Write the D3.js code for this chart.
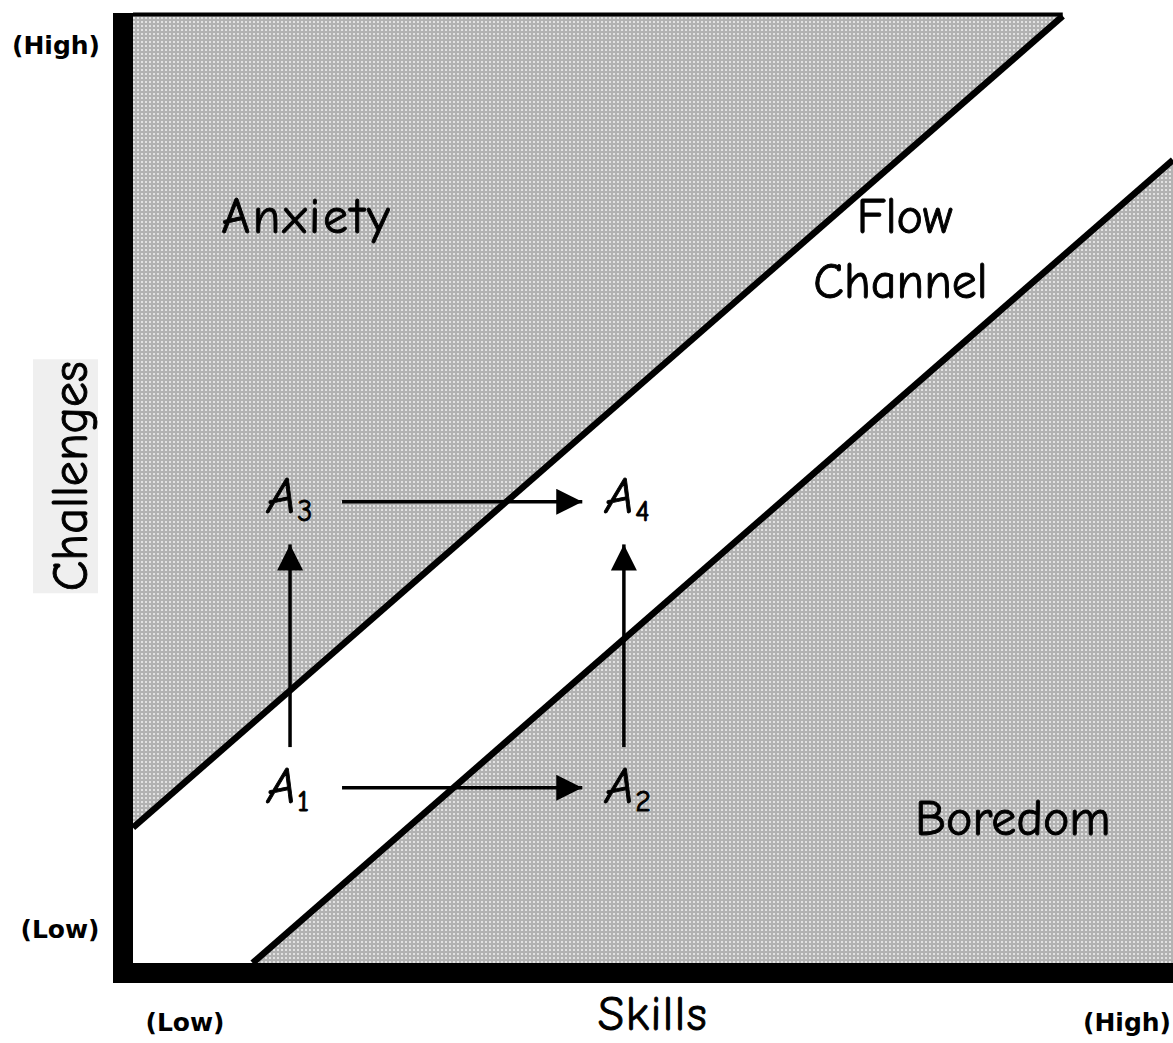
<!DOCTYPE html>
<html>
<head>
<meta charset="utf-8">
<script src="https://cdn.jsdelivr.net/npm/d3@7"></script>
<style>
  body { margin: 0; background: #fff; }
  text { font-family: "Comic Sans MS", "Comic Neue", "DejaVu Sans", sans-serif; fill: #000; }
  .comic { stroke: #000; stroke-width: 0.9; }
  .endlabel { font-family: "DejaVu Sans", Verdana, sans-serif; font-weight: bold; }
</style>
</head>
<body>
<div id="plot"></div>
<script>
// flow channel diagram: skills (x) vs challenges (y), both 0..100

// channel edges
const upperEdge = [{ x: 0, y: 14.3 }, { x: 89.4, y: 100 }];
const lowerEdge = [{ x: 11.5, y: 0 }, { x: 100, y: 84.8 }];

// shaded zones
const anxietyZone = [{ x: 0, y: 14.3 }, { x: 89.4, y: 100 }, { x: 0, y: 100 }];
const boredomZone = [{ x: 11.5, y: 0 }, { x: 100, y: 84.8 }, { x: 100, y: 0 }];

// zone names
const zoneLabels = [
  { text: "Anxiety", x: 16.7, y: 77.1 },
  { text: "Flow", x: 74.2, y: 77.1 },
  { text: "Channel", x: 73.8, y: 70.2 },
  { text: "Boredom", x: 84.6, y: 13.5 }
];

// states A1..A4
const states = [
  { name: "A", sub: "1", x: 12.9, y: 16.9 },
  { name: "A", sub: "2", x: 45.4, y: 16.9 },
  { name: "A", sub: "3", x: 12.9, y: 47.5 },
  { name: "A", sub: "4", x: 45.4, y: 47.5 }
];

// arrows between states
const moves = [
  { x1: 20.1, y1: 18.5, x2: 43.2, y2: 18.5 },
  { x1: 20.1, y1: 48.7, x2: 43.2, y2: 48.7 },
  { x1: 15.1, y1: 22.8, x2: 15.1, y2: 44.2 },
  { x1: 47.2, y1: 22.8, x2: 47.2, y2: 44.2 }
];

const axisNames = { x: "Skills", y: "Challenges" };
const lowHigh = ["(Low)", "(High)"];

const width = 1173, height = 1043;
const margin = { top: 16, right: 0, bottom: 80, left: 133 };

const svg = d3.select("#plot").append("svg")
  .attr("width", width)
  .attr("height", height);

const x = d3.scaleLinear().domain([0, 100]).range([margin.left, width - margin.right]);
const y = d3.scaleLinear().domain([0, 100]).range([height - margin.bottom, margin.top]);

// dotted gray fill
const defs = svg.append("defs");
const pat = defs.append("pattern")
  .attr("id", "dots")
  .attr("patternUnits", "userSpaceOnUse")
  .attr("width", 4).attr("height", 4);
pat.append("rect").attr("width", 4).attr("height", 4).attr("fill", "#b2b2b2");
pat.append("rect").attr("x", 1).attr("y", 1).attr("width", 2).attr("height", 2).attr("fill", "#e2e2e2");

const area = d3.line().x(d => x(d.x)).y(d => y(d.y));

svg.selectAll("path.zone")
  .data([anxietyZone, boredomZone])
  .enter().append("path")
  .attr("class", "zone")
  .attr("d", d => area(d) + "Z")
  .attr("fill", "url(#dots)");

// top edge of anxiety zone
svg.append("line")
  .attr("x1", x(0)).attr("x2", x(upperEdge[1].x))
  .attr("y1", y(100) - 1.5).attr("y2", y(100) - 1.5)
  .attr("stroke", "#000").attr("stroke-width", 4);

// channel edges
svg.selectAll("path.edge")
  .data([upperEdge, lowerEdge])
  .enter().append("path")
  .attr("class", "edge")
  .attr("d", area)
  .attr("fill", "none")
  .attr("stroke", "#000")
  .attr("stroke-width", 6.5);

// thick axes
svg.append("rect")
  .attr("x", x(0) - 20).attr("y", y(100) - 3)
  .attr("width", 20).attr("height", y(0) - y(100) + 23)
  .attr("fill", "#000");
svg.append("rect")
  .attr("x", x(0) - 20).attr("y", y(0))
  .attr("width", x(100) - x(0) + 20).attr("height", 20)
  .attr("fill", "#000");

// arrows
defs.append("marker")
  .attr("id", "head")
  .attr("viewBox", "0 0 10 10")
  .attr("refX", 10).attr("refY", 5)
  .attr("markerUnits", "userSpaceOnUse")
  .attr("markerWidth", 31).attr("markerHeight", 26)
  .attr("orient", "auto")
  .append("path")
  .attr("d", "M0,0 L10,5 L0,10 Z")
  .attr("fill", "#000");

svg.selectAll("line.move")
  .data(moves)
  .enter().append("line")
  .attr("class", "move")
  .attr("x1", d => x(d.x1)).attr("y1", d => y(d.y1))
  .attr("x2", d => x(d.x2)).attr("y2", d => y(d.y2))
  .attr("stroke", "#000")
  .attr("stroke-width", 3.5)
  .attr("marker-end", "url(#head)");

// state labels
const st = svg.selectAll("text.state")
  .data(states)
  .enter().append("text")
  .attr("class", "state comic")
  .attr("x", d => x(d.x))
  .attr("y", d => y(d.y))
  .attr("font-size", 50)
  .style("font-style", "italic");
st.append("tspan").text(d => d.name);
st.append("tspan").attr("font-size", 30).attr("dy", 8).attr("dx", 1)
  .style("font-style", "normal").text(d => d.sub);

// zone labels
svg.selectAll("text.zone")
  .data(zoneLabels)
  .enter().append("text")
  .attr("class", "zone comic")
  .attr("x", d => x(d.x))
  .attr("y", d => y(d.y))
  .attr("text-anchor", "middle")
  .attr("font-size", 50)
  .style("letter-spacing", d => d.text === "Anxiety" ? "2.5px" : "0px")
  .text(d => d.text);

// axis titles
svg.append("text")
  .attr("class", "comic")
  .attr("x", x(50)).attr("y", 1030)
  .attr("text-anchor", "middle")
  .attr("font-size", 48)
  .style("letter-spacing", "1.5px")
  .text(axisNames.x);

const yt = svg.append("g").attr("transform", `translate(87,${y(51.4)}) rotate(-90)`);
yt.append("rect")
  .attr("x", -117).attr("y", -54)
  .attr("width", 234).attr("height", 65)
  .attr("fill", "#efefef");
yt.append("text")
  .attr("class", "comic")
  .attr("text-anchor", "middle")
  .attr("font-size", 50)
  .text(axisNames.y);

// low / high end labels
svg.append("text").attr("class", "endlabel")
  .attr("x", 56).attr("y", 54).attr("text-anchor", "middle")
  .attr("font-size", 25).text(lowHigh[1]);
svg.append("text").attr("class", "endlabel")
  .attr("x", 60).attr("y", 938).attr("text-anchor", "middle")
  .attr("font-size", 25).text(lowHigh[0]);
svg.append("text").attr("class", "endlabel")
  .attr("x", 185).attr("y", 1031).attr("text-anchor", "middle")
  .attr("font-size", 25).text(lowHigh[0]);
svg.append("text").attr("class", "endlabel")
  .attr("x", 1127).attr("y", 1031).attr("text-anchor", "middle")
  .attr("font-size", 25).text(lowHigh[1]);
</script>
</body>
</html>
